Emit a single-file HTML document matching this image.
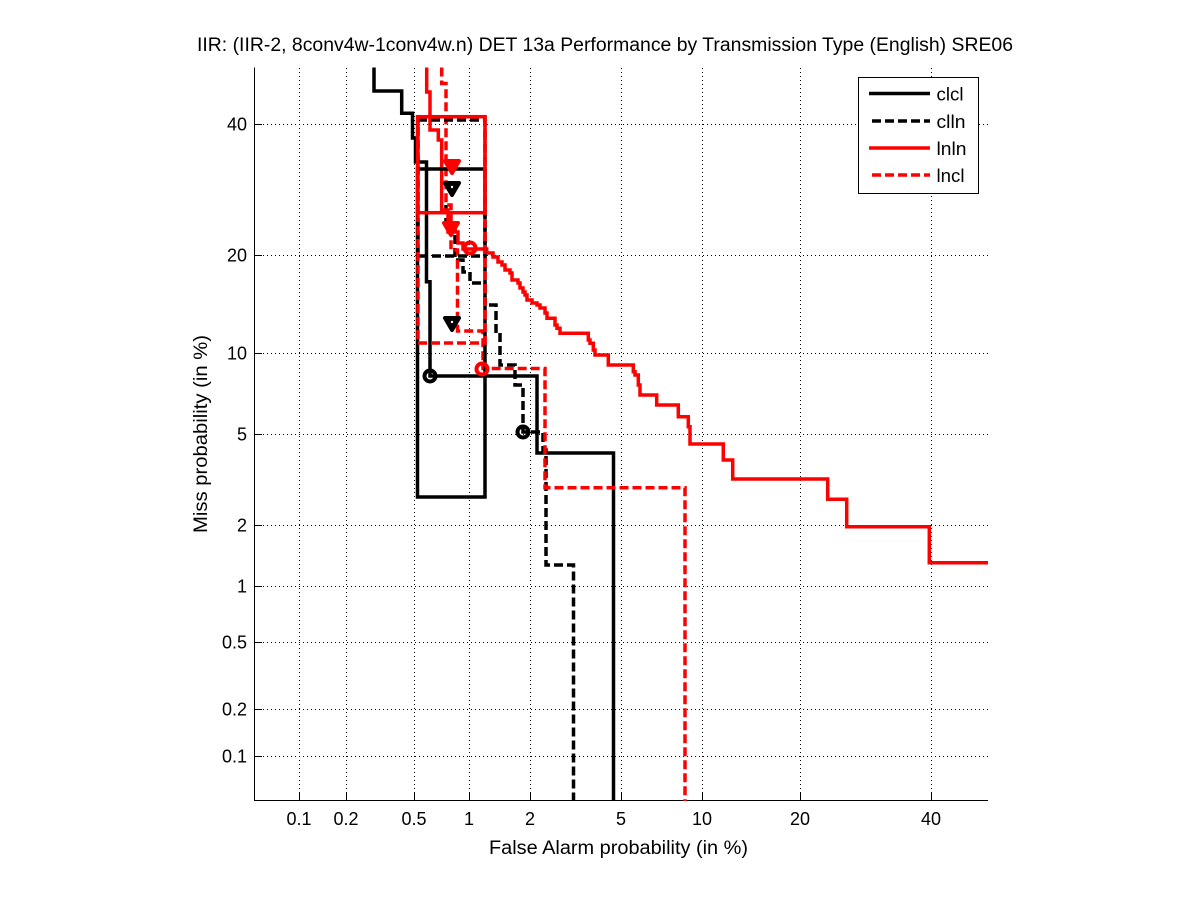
<!DOCTYPE html>
<html>
<head>
<meta charset="utf-8">
<style>
  html, body { margin: 0; padding: 0; background: #ffffff; }
  svg { display: block; }
  text { font-family: "Liberation Sans", Arial, Helvetica, sans-serif; fill: #000; }
</style>
</head>
<body>
<svg width="1201" height="900" viewBox="0 0 1201 900" xmlns="http://www.w3.org/2000/svg">
  <rect x="0" y="0" width="1201" height="900" fill="#ffffff"/>

  <!-- Title -->
  <text x="197" y="51" font-size="19" textLength="816" lengthAdjust="spacingAndGlyphs">IIR: (IIR-2, 8conv4w-1conv4w.n) DET 13a Performance by Transmission Type (English) SRE06</text>

  <!-- Grid (dotted) -->
  <g stroke="#000" stroke-width="1" stroke-dasharray="1,3" fill="none">
    <line x1="299.5" y1="68" x2="299.5" y2="801"/>
    <line x1="346.5" y1="68" x2="346.5" y2="801"/>
    <line x1="414.5" y1="68" x2="414.5" y2="801"/>
    <line x1="469.5" y1="68" x2="469.5" y2="801"/>
    <line x1="530.5" y1="68" x2="530.5" y2="801"/>
    <line x1="621.5" y1="68" x2="621.5" y2="801"/>
    <line x1="702.5" y1="68" x2="702.5" y2="801"/>
    <line x1="800.5" y1="68" x2="800.5" y2="801"/>
    <line x1="931.5" y1="68" x2="931.5" y2="801"/>
    <line x1="255" y1="124.5" x2="988" y2="124.5"/>
    <line x1="255" y1="255.5" x2="988" y2="255.5"/>
    <line x1="255" y1="353.5" x2="988" y2="353.5"/>
    <line x1="255" y1="434.5" x2="988" y2="434.5"/>
    <line x1="255" y1="525.5" x2="988" y2="525.5"/>
    <line x1="255" y1="586.5" x2="988" y2="586.5"/>
    <line x1="255" y1="642.5" x2="988" y2="642.5"/>
    <line x1="255" y1="709.5" x2="988" y2="709.5"/>
    <line x1="255" y1="756.5" x2="988" y2="756.5"/>
  </g>

  <!-- Axes (left and bottom only) -->
  <g stroke="#000" stroke-width="1" fill="none" shape-rendering="crispEdges">
    <line x1="254.5" y1="67.5" x2="254.5" y2="801"/>
    <line x1="254" y1="800.5" x2="988" y2="800.5"/>
    <line x1="254" y1="124.5" x2="262" y2="124.5"/>
    <line x1="254" y1="255.5" x2="262" y2="255.5"/>
    <line x1="254" y1="353.5" x2="262" y2="353.5"/>
    <line x1="254" y1="434.5" x2="262" y2="434.5"/>
    <line x1="254" y1="525.5" x2="262" y2="525.5"/>
    <line x1="254" y1="586.5" x2="262" y2="586.5"/>
    <line x1="254" y1="642.5" x2="262" y2="642.5"/>
    <line x1="254" y1="709.5" x2="262" y2="709.5"/>
    <line x1="254" y1="756.5" x2="262" y2="756.5"/>
    <line x1="299.5" y1="801" x2="299.5" y2="793"/>
    <line x1="346.5" y1="801" x2="346.5" y2="793"/>
    <line x1="414.5" y1="801" x2="414.5" y2="793"/>
    <line x1="469.5" y1="801" x2="469.5" y2="793"/>
    <line x1="530.5" y1="801" x2="530.5" y2="793"/>
    <line x1="621.5" y1="801" x2="621.5" y2="793"/>
    <line x1="702.5" y1="801" x2="702.5" y2="793"/>
    <line x1="800.5" y1="801" x2="800.5" y2="793"/>
    <line x1="931.5" y1="801" x2="931.5" y2="793"/>
  </g>

  <!-- Y tick labels -->
  <g font-size="18" text-anchor="end">
    <text x="247" y="130.5">40</text>
    <text x="247" y="261.5">20</text>
    <text x="247" y="359.5">10</text>
    <text x="247" y="440.5">5</text>
    <text x="247" y="531.5">2</text>
    <text x="247" y="592.5">1</text>
    <text x="247" y="648.5">0.5</text>
    <text x="247" y="715.5">0.2</text>
    <text x="247" y="762.5">0.1</text>
  </g>

  <!-- X tick labels -->
  <g font-size="18" text-anchor="middle">
    <text x="299" y="825">0.1</text>
    <text x="346" y="825">0.2</text>
    <text x="414" y="825">0.5</text>
    <text x="469" y="825">1</text>
    <text x="530" y="825">2</text>
    <text x="621" y="825">5</text>
    <text x="702" y="825">10</text>
    <text x="800" y="825">20</text>
    <text x="931" y="825">40</text>
  </g>

  <!-- Axis labels -->
  <text x="489" y="854" font-size="19" textLength="259" lengthAdjust="spacingAndGlyphs">False Alarm probability (in %)</text>
  <text transform="translate(207,434) rotate(-90)" x="0" y="0" font-size="19" text-anchor="middle" textLength="198" lengthAdjust="spacingAndGlyphs">Miss probability (in %)</text>

  <!-- Curves -->
  <g fill="none" stroke-width="3.5" stroke-linejoin="miter">
    <path stroke="#000" d="M374 67.5 V91 H401.7 V113.3 H412.5 V138 H415.5 V162 H426.5 V281.7 H430 V376 H537 V453 H613.5 V801"/>
    <path stroke="#000" stroke-dasharray="9,4" d="M446 205 V230 H455 V260 H463 V272 H470 V283 H485 V305 H496 V333 H500 V365 H515 V385 H523 V432 H543 V450 H546 V565 H573.5 V801"/>
    <path stroke="#ff0000" d="M426.7 67.5 V92 H430 V130 H438.3 V140 H441.7 V210 H448 V232 H458 V243 H463 V249 H486.7 V253 H493 V257 H498 V262 H502 V265 H505 V270 H510 V273 H512 V280 H518 V283 H520 V288 H523 V292 H525 V295 H527 V300 H532 V303 H537 V305 H540 V308 H545 V313 H547 V318.3 H555 V325 H557 V328.3 H560 V333.3 H588.3 V340 H590 V343.3 H593.3 V350 H595 V355 H608.3 V365 H633.3 V371.7 H635 V375 H638.3 V385 H640 V395 H656.7 V405 H678.3 V416.7 H688.3 V426.7 H690 V444 H723.3 V460 H732.7 V479 H827.7 V499.3 H846.7 V526.7 H929.3 V562.7 H988"/>
    <path stroke="#ff0000" stroke-dasharray="9,4" d="M441.7 67.5 V83.5 H446 V205 H451 V250 H457.5 V331 H483 V368.5 H545 V487.7 H685 V801"/>
  </g>

  <!-- Boxes -->
  <g fill="none" stroke-width="3.5">
    <rect x="417.5" y="169" width="67.5" height="328" stroke="#000"/>
    <rect x="418" y="120" width="67" height="136" stroke="#000" stroke-dasharray="9,4"/>
    <rect x="417.5" y="116.7" width="67.5" height="96" stroke="#ff0000"/>
    <rect x="418" y="117" width="67" height="226" stroke="#ff0000" stroke-dasharray="9,4"/>
  </g>

  <!-- Markers -->
  <g stroke-width="4" stroke-linejoin="round">
    <circle cx="430" cy="376" r="5.5" fill="none" stroke="#000"/>
    <circle cx="523" cy="432" r="5.5" fill="none" stroke="#000"/>
    <circle cx="470" cy="248" r="5.5" fill="none" stroke="#ff0000"/>
    <circle cx="482" cy="369" r="5.5" fill="none" stroke="#ff0000"/>
    <polygon points="445,183 459,183 452,195" fill="#000" stroke="#000"/>
    <polygon points="445,318 459,318 452,330" fill="#000" stroke="#000"/>
    <polygon points="445,161 459,161 452,173" fill="#ff0000" stroke="#ff0000"/>
    <polygon points="444,223 458,223 451,235" fill="#ff0000" stroke="#ff0000"/>
  </g>
  <g fill="#fff">
    <circle cx="452" cy="187" r="1.2"/>
    <circle cx="452" cy="322" r="1.2"/>
  </g>

  <!-- Legend -->
  <rect x="858.5" y="77.5" width="120" height="116" fill="#fff" stroke="#000" stroke-width="1" shape-rendering="crispEdges"/>
  <g fill="none" stroke-width="3.5">
    <line x1="869" y1="93.5" x2="930" y2="93.5" stroke="#000"/>
    <line x1="872" y1="121" x2="930" y2="121" stroke="#000" stroke-dasharray="9,4"/>
    <line x1="869" y1="148" x2="930" y2="148" stroke="#ff0000"/>
    <line x1="872" y1="175" x2="930" y2="175" stroke="#ff0000" stroke-dasharray="9,4"/>
  </g>
  <g font-size="18">
    <text x="936.5" y="100.5" textLength="27" lengthAdjust="spacingAndGlyphs">clcl</text>
    <text x="936.5" y="128" textLength="29" lengthAdjust="spacingAndGlyphs">clln</text>
    <text x="936.5" y="155" textLength="30" lengthAdjust="spacingAndGlyphs">lnln</text>
    <text x="936.5" y="182" textLength="28" lengthAdjust="spacingAndGlyphs">lncl</text>
  </g>
</svg>
</body>
</html>
